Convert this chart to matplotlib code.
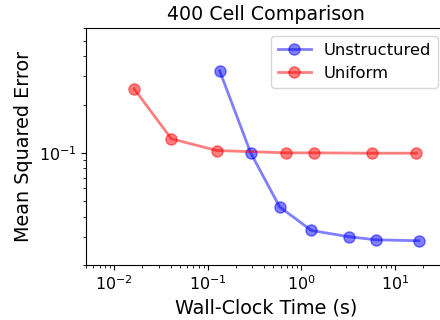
import matplotlib
matplotlib.use("Agg")
import matplotlib.pyplot as plt

# Wall-clock time (s) and mean squared error for each method
unstructured_time = [0.134, 0.287, 0.586, 1.28, 3.2, 6.22, 18.0]
unstructured_mse = [0.324, 0.100, 0.046, 0.0328, 0.0300, 0.0287, 0.0283]
uniform_time = [0.0163, 0.0408, 0.125, 0.68, 1.36, 5.69, 16.9]
uniform_mse = [0.251, 0.1223, 0.1034, 0.1000, 0.1000, 0.0995, 0.0995]

fig = plt.figure(figsize=(4.4, 3.2), dpi=100)
ax = fig.add_axes([0.1955, 0.172, 0.818, 0.7405])

ax.plot(unstructured_time, unstructured_mse, 'o-', color='blue', alpha=0.5,
        lw=2, markersize=8, label='Unstructured')
ax.plot(uniform_time, uniform_mse, 'o-', color='red', alpha=0.5,
        lw=2, markersize=8, label='Uniform')

ax.set_xscale('log')
ax.set_yscale('log')
ax.set_xlim(0.005, 35)
ax.set_ylim(0.02, 0.6)

ax.set_xlabel('Wall-Clock Time (s)', fontsize=13.8)
ax.set_ylabel('Mean Squared Error', fontsize=13.8)
ax.set_title('400 Cell Comparison', fontsize=13.7)
ax.tick_params(labelsize=11.4)
ax.legend(loc='upper right', fontsize=11.8)

plt.savefig('out.png')
